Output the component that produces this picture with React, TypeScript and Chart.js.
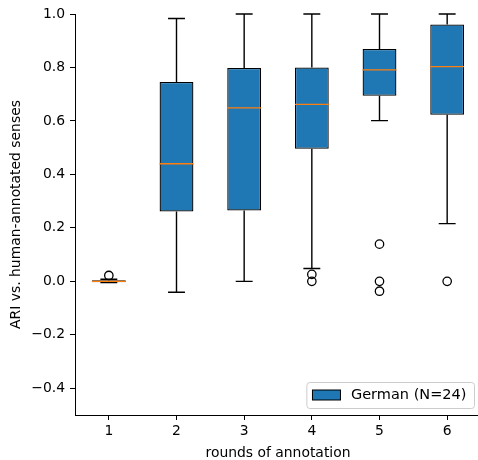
import React, { useEffect, useRef } from "react";
import { Chart, registerables } from "chart.js";

Chart.register(...registerables);

const rounds = ["1", "2", "3", "4", "5", "6"];
const q1 = [-0.003, 0.261, 0.265, 0.496, 0.694, 0.623];
const medians = [0.0, 0.44, 0.649, 0.662, 0.791, 0.803];
const q3 = [0.004, 0.746, 0.798, 0.8, 0.869, 0.961];
const whiskerLow = [-0.005, -0.041, 0.0, 0.048, 0.601, 0.216];
const whiskerHigh = [0.008, 0.983, 1.0, 1.0, 1.0, 1.0];
const outlierRound = ["1", "4", "4", "5", "5", "5", "6"];
const outlierValue = [0.022, 0.026, 0.0, 0.139, 0.0, -0.037, 0.0];
const yTicks = [-0.4, -0.2, 0.0, 0.2, 0.4, 0.6, 0.8, 1.0];
const seriesLabel = "German (N=24)";

const FONT = "'DejaVu Sans', sans-serif";
const FS = 13.9;
const LEGEND_FS = 14.5;

const boxPlugin = {
  id: "boxParts",
  afterDatasetsDraw(chart: any) {
    const { ctx, scales } = chart;
    const x = scales.x;
    const y = scales.y;
    const step = x.getPixelForValue(1) - x.getPixelForValue(0);
    const capHalf = step * 0.125;
    const boxHalf = step * 0.25;
    ctx.save();
    for (let i = 0; i < rounds.length; i++) {
      const cx = x.getPixelForValue(i);
      const lo = y.getPixelForValue(whiskerLow[i]);
      const hi = y.getPixelForValue(whiskerHigh[i]);
      ctx.strokeStyle = "#000";
      ctx.lineWidth = 1.4;
      ctx.beginPath();
      ctx.moveTo(cx, y.getPixelForValue(q1[i]));
      ctx.lineTo(cx, lo);
      ctx.moveTo(cx, y.getPixelForValue(q3[i]));
      ctx.lineTo(cx, hi);
      ctx.moveTo(cx - capHalf, lo);
      ctx.lineTo(cx + capHalf, lo);
      ctx.moveTo(cx - capHalf, hi);
      ctx.lineTo(cx + capHalf, hi);
      ctx.stroke();
      ctx.strokeStyle = "#ff7f0e";
      ctx.lineWidth = 1.4;
      ctx.beginPath();
      const my = y.getPixelForValue(medians[i]);
      ctx.moveTo(cx - boxHalf, my);
      ctx.lineTo(cx + boxHalf, my);
      ctx.stroke();
    }
    ctx.restore();
  },
};

const legendPlugin = {
  id: "mplLegend",
  afterDraw(chart: any) {
    const { ctx, chartArea } = chart;
    const ds = chart.data.datasets[0];
    ctx.save();
    ctx.font = `${LEGEND_FS}px ${FONT}`;
    const tw = ctx.measureText(ds.label).width;
    const pad = 5.6;
    const patchW = 28;
    const gap = 11;
    const h = 26;
    const right = chartArea.right - 7;
    const bottom = chartArea.bottom - 7;
    const w = pad + patchW + gap + tw + pad + 2;
    const left = right - w;
    const top = bottom - h;
    ctx.fillStyle = "rgba(255,255,255,0.8)";
    ctx.strokeStyle = "#cccccc";
    ctx.lineWidth = 1;
    ctx.beginPath();
    (ctx as any).roundRect(left + 0.5, top + 0.5, w, h, 3);
    ctx.fill();
    ctx.stroke();
    const py = top + h / 2 - 5;
    ctx.fillStyle = ds.backgroundColor;
    ctx.fillRect(left + pad + 0.5, py, patchW, 10);
    ctx.strokeStyle = "#000";
    ctx.strokeRect(left + pad + 0.5, py, patchW, 10);
    ctx.fillStyle = "#000";
    ctx.textBaseline = "middle";
    ctx.textAlign = "left";
    ctx.fillText(ds.label, left + pad + patchW + gap, top + h / 2 + 0.5);
    ctx.restore();
  },
};

export default function App() {
  const ref = useRef<HTMLCanvasElement | null>(null);
  useEffect(() => {
    if (!ref.current) return;
    Chart.defaults.color = "#000";
    Chart.defaults.font.family = FONT;
    Chart.defaults.font.size = FS;
    const chart = new Chart(ref.current, {
      type: "bar",
      data: {
        labels: rounds,
        datasets: [
          {
            type: "bar",
            label: seriesLabel,
            data: rounds.map((_, i) => [q1[i], q3[i]]) as any,
            backgroundColor: "#1f77b4",
            borderColor: "#000",
            borderWidth: 1.3,
            borderSkipped: false,
            barPercentage: 0.5,
            categoryPercentage: 1,
            order: 2,
          } as any,
          {
            type: "scatter",
            label: "outliers",
            data: outlierRound.map((r, i) => ({ x: r, y: outlierValue[i] })),
            backgroundColor: "rgba(0,0,0,0)",
            borderColor: "#000",
            borderWidth: 1.3,
            pointRadius: 4.2,
            pointHoverRadius: 4.2,
            order: 1,
          } as any,
        ],
      },
      options: {
        animation: false,
        responsive: false,
        events: [],
        layout: { padding: { top: 14, right: 9, left: 0, bottom: 0 } },
        plugins: {
          legend: { display: false },
          tooltip: { enabled: false },
        },
        scales: {
          x: {
            type: "category",
            offset: true,
            grid: {
              offset: false,
              drawOnChartArea: false,
              drawTicks: true,
              tickLength: 5,
              tickColor: "#000",
              tickWidth: 1,
            },
            border: { display: true, color: "#000", width: 1 },
            ticks: { padding: 3, color: "#000", font: { size: FS, family: FONT } },
            title: {
              display: true,
              text: "rounds of annotation",
              color: "#000",
              font: { size: FS, family: FONT, lineHeight: 1 },
              padding: { top: 0, bottom: 0 },
            },
            afterFit(scale: any) {
              scale.height = 45;
            },
          },
          y: {
            type: "linear",
            min: -0.5,
            max: 1.0,
            afterBuildTicks(scale: any) {
              scale.ticks = yTicks.map((v) => ({ value: v }));
            },
            grid: {
              drawOnChartArea: false,
              drawTicks: true,
              tickLength: 5,
              tickColor: "#000",
              tickWidth: 1,
            },
            border: { display: true, color: "#000", width: 1 },
            ticks: {
              padding: 5,
              color: "#000",
              font: { size: FS, family: FONT },
              callback: (v: any) => Number(v).toFixed(1).replace("-", "\u2212"),
            },
            title: {
              display: true,
              text: "ARI vs. human-annotated senses",
              color: "#000",
              font: { size: FS, family: FONT, lineHeight: 1 },
              padding: { top: 9, bottom: 0 },
            },
            afterFit(scale: any) {
              scale.width = 75;
            },
          },
        },
      } as any,
      plugins: [boxPlugin, legendPlugin],
    });
    return () => chart.destroy();
  }, []);
  return (
    <div
      style={{
        position: "fixed",
        left: 0,
        top: 0,
        width: 478,
        height: 460,
        overflow: "hidden",
        background: "#fff",
      }}
    >
      <canvas ref={ref} width={490} height={460} style={{ display: "block" }} />
    </div>
  );
}
